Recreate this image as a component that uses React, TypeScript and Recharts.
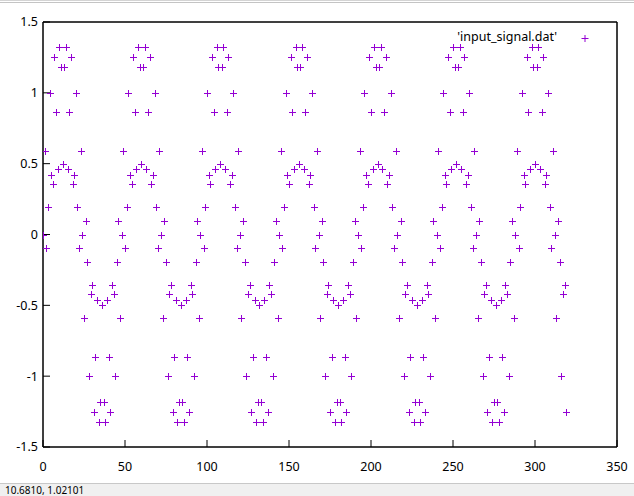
import React from "react";
import { ScatterChart, Scatter, XAxis, YAxis, ReferenceArea } from "recharts";

const signal: number[] = [
  0, 0.592, -0.095, 0.191, 1, 0.417, 0.354, 1.255, 0.866, 0.462, 1.32, 1.183, 0.5, 1.183, 1.32, 0.462, 0.866, 1.255, 0.354, 0.417, 1, 0.191, -0.095, 0.592,
  0, -0.592, 0.095, -0.191, -1, -0.417, -0.354, -1.255, -0.866, -0.462, -1.32, -1.183, -0.5, -1.183, -1.32, -0.462, -0.866, -1.255, -0.354, -0.417, -1, -0.191, 0.095, -0.592,
  0, 0.592, -0.095, 0.191, 1, 0.417, 0.354, 1.255, 0.866, 0.462, 1.32, 1.183, 0.5, 1.183, 1.32, 0.462, 0.866, 1.255, 0.354, 0.417, 1, 0.191, -0.095, 0.592,
  0, -0.592, 0.095, -0.191, -1, -0.417, -0.354, -1.255, -0.866, -0.462, -1.32, -1.183, -0.5, -1.183, -1.32, -0.462, -0.866, -1.255, -0.354, -0.417, -1, -0.191, 0.095, -0.592,
  0, 0.592, -0.095, 0.191, 1, 0.417, 0.354, 1.255, 0.866, 0.462, 1.32, 1.183, 0.5, 1.183, 1.32, 0.462, 0.866, 1.255, 0.354, 0.417, 1, 0.191, -0.095, 0.592,
  0, -0.592, 0.095, -0.191, -1, -0.417, -0.354, -1.255, -0.866, -0.462, -1.32, -1.183, -0.5, -1.183, -1.32, -0.462, -0.866, -1.255, -0.354, -0.417, -1, -0.191, 0.095, -0.592,
  0, 0.592, -0.095, 0.191, 1, 0.417, 0.354, 1.255, 0.866, 0.462, 1.32, 1.183, 0.5, 1.183, 1.32, 0.462, 0.866, 1.255, 0.354, 0.417, 1, 0.191, -0.095, 0.592,
  0, -0.592, 0.095, -0.191, -1, -0.417, -0.354, -1.255, -0.866, -0.462, -1.32, -1.183, -0.5, -1.183, -1.32, -0.462, -0.866, -1.255, -0.354, -0.417, -1, -0.191, 0.095, -0.592,
  0, 0.592, -0.095, 0.191, 1, 0.417, 0.354, 1.255, 0.866, 0.462, 1.32, 1.183, 0.5, 1.183, 1.32, 0.462, 0.866, 1.255, 0.354, 0.417, 1, 0.191, -0.095, 0.592,
  0, -0.592, 0.095, -0.191, -1, -0.417, -0.354, -1.255, -0.866, -0.462, -1.32, -1.183, -0.5, -1.183, -1.32, -0.462, -0.866, -1.255, -0.354, -0.417, -1, -0.191, 0.095, -0.592,
  0, 0.592, -0.095, 0.191, 1, 0.417, 0.354, 1.255, 0.866, 0.462, 1.32, 1.183, 0.5, 1.183, 1.32, 0.462, 0.866, 1.255, 0.354, 0.417, 1, 0.191, -0.095, 0.592,
  0, -0.592, 0.095, -0.191, -1, -0.417, -0.354, -1.255, -0.866, -0.462, -1.32, -1.183, -0.5, -1.183, -1.32, -0.462, -0.866, -1.255, -0.354, -0.417, -1, -0.191, 0.095, -0.592,
  0, 0.592, -0.095, 0.191, 1, 0.417, 0.354, 1.255, 0.866, 0.462, 1.32, 1.183, 0.5, 1.183, 1.32, 0.462, 0.866, 1.255, 0.354, 0.417, 1, 0.191, -0.095, 0.592,
  0, -0.592, 0.095, -0.191, -1, -0.417, -0.354, -1.255,
];

const xTicks: number[] = [0, 50, 100, 150, 200, 250, 300, 350];
const yTicks: number[] = [-1.5, -1, -0.5, 0, 0.5, 1, 1.5];
const legendLabel = "'input_signal.dat'";
const statusText = "10.6810, 1.02101";

const points = signal.map((v, i) => ({ x: i, y: v }));

const COLOR = "#9400d3";
const FONT = "'Noto Sans', sans-serif";
const tickStyle = { fill: "#000", fontSize: 12.5, fontFamily: FONT };

const Plus = (props: any) => {
  const { cx, cy } = props;
  if (cx == null || cy == null) return null;
  const x = Math.round(cx) + 0.5;
  const y = Math.round(cy) + 0.5;
  return (
    <path
      d={`M${x - 3.5},${y}H${x + 3.5}M${x},${y - 3.5}V${y + 3.5}`}
      stroke={COLOR}
      strokeWidth={1}
      fill="none"
    />
  );
};

export default function App() {
  return (
    <div style={{ position: "relative", width: 634, height: 496, overflow: "hidden", background: "#fff", fontFamily: FONT }}>
      <style>{`body{margin:0;}`}</style>
      <div style={{ position: "absolute", left: 0, top: 0, width: 634, height: 1, background: "#d4d4d4" }} />
      <div style={{ position: "absolute", left: 0, top: 2, width: 634, height: 1, background: "#c4c4c4" }} />
      <div style={{ position: "absolute", left: 0, top: 0 }}>
        <ScatterChart width={634} height={496} margin={{ top: 0, right: 0, bottom: 19, left: 0 }}>
          <XAxis
            xAxisId="b"
            dataKey="x"
            type="number"
            domain={[0, 350]}
            ticks={xTicks}
            height={30}
            orientation="bottom"
            axisLine={{ stroke: "#000" }}
            tickLine={{ stroke: "#000" }}
            tickSize={-7}
            tickMargin={22}
            tick={tickStyle}
            interval={0}
            allowDataOverflow
          />
          <XAxis
            xAxisId="t"
            dataKey="x"
            type="number"
            domain={[0, 350]}
            ticks={xTicks}
            height={22}
            orientation="top"
            axisLine={{ stroke: "#000" }}
            tickLine={{ stroke: "#000" }}
            tickSize={-7}
            tick={false}
            interval={0}
            allowDataOverflow
          />
          <YAxis
            yAxisId="l"
            dataKey="y"
            type="number"
            domain={[-1.5, 1.5]}
            ticks={yTicks}
            width={43}
            orientation="left"
            axisLine={{ stroke: "#000" }}
            tickLine={{ stroke: "#000" }}
            tickSize={-7}
            tickMargin={12}
            tick={tickStyle}
            interval={0}
            allowDataOverflow
          />
          <YAxis
            yAxisId="r"
            dataKey="y"
            type="number"
            domain={[-1.5, 1.5]}
            ticks={yTicks}
            width={17}
            orientation="right"
            axisLine={{ stroke: "#000" }}
            tickLine={{ stroke: "#000" }}
            tickSize={-7}
            tick={false}
            interval={0}
            allowDataOverflow
          />
          <ReferenceArea
            xAxisId="b"
            yAxisId="l"
            x1={0}
            x2={350}
            y1={-1.5}
            y2={1.5}
            fill="none"
            stroke="#000"
            strokeWidth={1}
            ifOverflow="visible"
          />
          <Scatter
            xAxisId="b"
            yAxisId="l"
            data={points}
            shape={<Plus />}
            isAnimationActive={false}
          />
        </ScatterChart>
      </div>
      <div
        style={{
          position: "absolute",
          right: 634 - 557,
          top: 29,
          fontSize: 12.5,
          lineHeight: "16px",
          color: "#000",
          whiteSpace: "nowrap",
        }}
      >
        {legendLabel}
      </div>
      <svg style={{ position: "absolute", left: 580, top: 33 }} width={11} height={11}>
        <path d="M1.5,5.5H8.5M5,2V9" stroke={COLOR} strokeWidth={1} fill="none" />
      </svg>
      <div
        style={{
          position: "absolute",
          left: 0,
          top: 483,
          width: 634,
          height: 13,
          background: "#f0f0f0",
          borderTop: "1px solid #c8c8c8",
        }}
      >
        <div style={{ position: "absolute", left: 5, top: 0, fontSize: 10, lineHeight: "12px", color: "#000", whiteSpace: "nowrap" }}>
          {statusText}
        </div>
      </div>
    </div>
  );
}
